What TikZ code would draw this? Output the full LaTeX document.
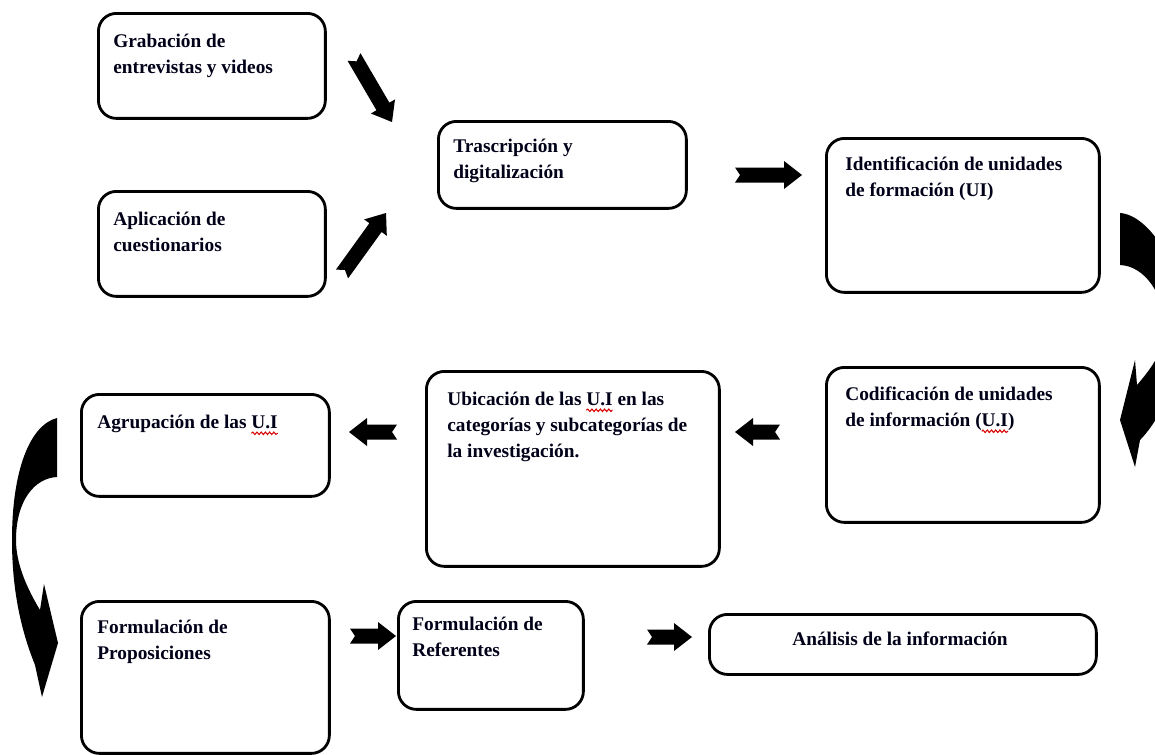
\documentclass[tikz,border=0pt]{standalone}
\usepackage{fontspec}
\setmainfont{Liberation Serif}
\usetikzlibrary{calc,decorations.pathmorphing}
\newdimen\wavewd
\newsavebox\wavebox
\newcommand\redwave[1]{\sbox\wavebox{#1}\wavewd=\wd\wavebox\leavevmode\rlap{\usebox\wavebox}\tikz[baseline=0pt,x=1pt,y=1pt]{\useasboundingbox (0,0) rectangle (\wavewd,0.1pt);\draw[red!85!black, line width=0.6pt, decorate, decoration={snake, amplitude=0.7pt, segment length=2.4pt}] (0,-3pt) -- (\wavewd,-3pt);}}
\tikzset{
  box/.style={draw=black, line width=1.6pt, rounded corners=0.36cm, anchor=north west, inner sep=0pt},
  txt/.style={anchor=base west, align=left, inner sep=0pt, font=\fontsize{11pt}{14.8pt}\selectfont\bfseries, text=black!90!blue},
  blockto/.style={to path={
    ($(\tikztostart)!0.15cm!90:(\tikztotarget)$)
    -- ($($(\tikztotarget)!0.36cm!(\tikztostart)$)!0.15cm!-90:(\tikztostart)$)
    -- ($($(\tikztotarget)!0.36cm!(\tikztostart)$)!0.28cm!-90:(\tikztostart)$)
    -- (\tikztotarget)
    -- ($($(\tikztotarget)!0.36cm!(\tikztostart)$)!0.28cm!90:(\tikztostart)$)
    -- ($($(\tikztotarget)!0.36cm!(\tikztostart)$)!0.15cm!90:(\tikztostart)$)
    -- ($(\tikztostart)!0.15cm!-90:(\tikztotarget)$)
    -- ($(\tikztostart)!0.1cm!(\tikztotarget)$)
    -- cycle}},
  barrow/.style={fill=black}
}
\begin{document}
\begin{tikzpicture}[x=0.02cm, y=-0.02cm]
\useasboundingbox (0,0) rectangle (1155,754);
\clip (0,0) rectangle (1155,754);
\fill[white] (0,0) rectangle (1155,754);

% boxes
\node[box, minimum width=4.54cm, minimum height=2.10cm] (grab) at (97,12) {};
\node[box, minimum width=4.54cm, minimum height=2.10cm] (apli) at (97,190) {};
\node[box, minimum width=4.96cm, minimum height=1.74cm] (tras) at (437,120) {};
\node[box, minimum width=5.46cm, minimum height=3.08cm] (iden) at (825,137) {};
\node[box, minimum width=5.46cm, minimum height=3.10cm] (codi) at (825,366) {};
\node[box, minimum width=5.86cm, minimum height=3.90cm] (ubic) at (425,370) {};
\node[box, minimum width=4.96cm, minimum height=2.04cm] (agru) at (80,393) {};
\node[box, minimum width=4.96cm, minimum height=3.04cm] (prop) at (80,600) {};
\node[box, minimum width=3.70cm, minimum height=2.16cm] (refe) at (397,600) {};
\node[box, minimum width=7.74cm, minimum height=1.20cm] (anal) at (708,613) {};

% texts (anchored at the baseline of their last line)
\node[txt] (grab-t) at (113,73) {Grabación de\\entrevistas y videos};
\node[txt] (apli-t) at (113,251) {Aplicación de\\cuestionarios};
\node[txt] (tras-t) at (453,178) {Trascripción y\\digitalización};
\node[txt] (iden-t) at (845,196) {Identificación de unidades\\de formación (UI)};
\node[txt] (codi-t) at (845,426) {Codificación de unidades\\de información (\redwave{U.I})};
\node[txt] (ubic-t) at (447,457) {Ubicación de las \redwave{U.I} en las\\categorías y subcategorías de\\la investigación.};
\node[txt] (agru-t) at (97,428) {Agrupación de las \redwave{U.I}};
\node[txt] (prop-t) at (97,659) {Formulación de\\Proposiciones};
\node[txt] (refe-t) at (412,656) {Formulación de\\Referentes};
\node[txt, anchor=base] (anal-t) at (900,645) {Análisis de la información};

% arrow end points
\coordinate (a1s) at (354,57);
\coordinate (a1e) at (392,122);
\coordinate (a2s) at (342,274);
\coordinate (a2e) at (386,213);
\coordinate (a3s) at (735,175);
\coordinate (a3e) at (802,175);
\coordinate (a4s) at (780,432);
\coordinate (a4e) at (735,432);
\coordinate (a5s) at (397,432);
\coordinate (a5e) at (349,432);
\coordinate (a6s) at (350,636);
\coordinate (a6e) at (396,636);
\coordinate (a7s) at (647,637);
\coordinate (a7e) at (692,637);

\fill[barrow] (a1s) to[blockto] (a1e);
\fill[barrow] (a2s) to[blockto] (a2e);
\fill[barrow] (a3s) to[blockto] (a3e);
\fill[barrow] (a4s) to[blockto] (a4e);
\fill[barrow] (a5s) to[blockto] (a5e);
\fill[barrow] (a6s) to[blockto] (a6e);
\fill[barrow] (a7s) to[blockto] (a7e);

% curved arrow right (Identificacion -> Codificacion)
\fill[barrow] (1120,213) .. controls (1150,215) and (1185,270) .. (1185,330)
  .. controls (1185,370) and (1160,420) .. (1140,440) -- (1135,467) -- (1120,420)
  -- (1135,360) -- (1137,385) .. controls (1150,370) and (1165,350) .. (1165,330)
  .. controls (1165,295) and (1145,266) .. (1120,265) -- cycle;

% curved arrow left (Agrupacion -> Formulacion de Proposiciones)
\fill[barrow] (57,418) .. controls (30,425) and (12,470) .. (12,540)
  .. controls (12,600) and (25,640) .. (35,665) -- (42,697) -- (58,643)
  -- (44,584) -- (40,610) .. controls (28,590) and (16,565) .. (16,540)
  .. controls (16,500) and (35,478) .. (57,477) -- cycle;
\end{tikzpicture}
\end{document}
